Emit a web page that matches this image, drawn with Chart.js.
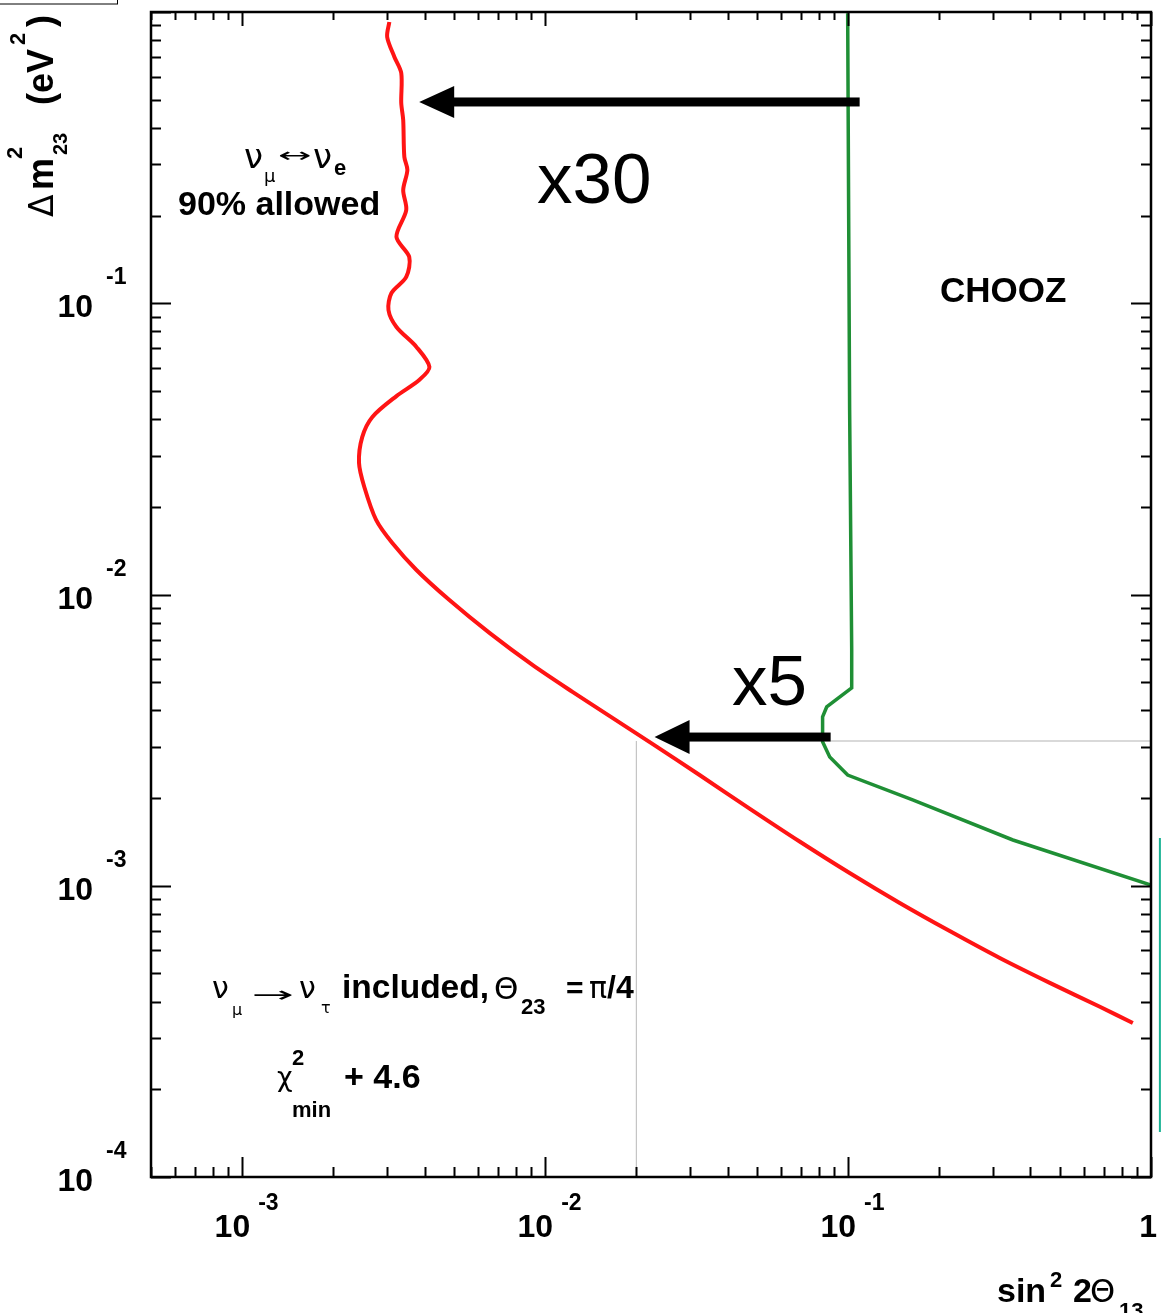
<!DOCTYPE html>
<html>
<head>
<meta charset="utf-8">
<script src="https://cdn.jsdelivr.net/npm/chart.js@4.4.1/dist/chart.umd.min.js"></script>
<style>
  html, body { margin: 0; padding: 0; background: #fff; }
  canvas { display: block; }
</style>
</head>
<body>
<canvas id="chart" width="1161" height="1313"></canvas>
<script>
// nu_mu <-> nu_e, 90% allowed contour (sin^2 2theta13, dm^2_23)
const redX = [3.06e-3, 3.01e-3, 3.18e-3, 3.35e-3, 3.35e-3, 3.40e-3, 3.43e-3, 3.51e-3, 3.40e-3, 3.48e-3,
  3.23e-3, 3.56e-3, 3.48e-3, 3.11e-3, 3.04e-3, 3.23e-3, 3.76e-3, 4.15e-3, 3.84e-3, 3.23e-3,
  2.69e-3, 2.49e-3, 2.43e-3, 2.53e-3, 2.77e-3, 3.13e-3,
  3.76e-3, 4.83e-3, 6.55e-3, 9.08e-3, 1.231e-2, 1.668e-2, 2.26e-2, 3.234e-2, 4.73e-2, 6.92e-2,
  0.1012, 0.1481, 0.2166, 0.3168, 0.4634, 0.678, 0.871];
const redY = [0.924, 0.821, 0.701, 0.617, 0.487, 0.426, 0.3177, 0.2868, 0.2447, 0.2090,
  0.1689, 0.1441, 0.1231, 0.1084, 0.0948, 0.0829, 0.0708, 0.0604, 0.0545, 0.0480,
  0.0407, 0.0347, 0.0283, 0.0234, 0.0180, 0.01502,
  0.01214, 9.57e-3, 7.38e-3, 5.73e-3, 4.63e-3, 3.77e-3, 3.07e-3, 2.40e-3, 1.841e-3, 1.419e-3,
  1.106e-3, 8.73e-4, 6.99e-4, 5.65e-4, 4.64e-4, 3.84e-4, 3.38e-4];

// CHOOZ limit
const choozX = [0.0997, 0.1012, 0.1028, 0.1028, 0.0850, 0.0824, 0.0824, 0.0870, 0.0997, 0.1634, 0.350, 1.0];
const choozY = [0.99, 0.0430, 6.45e-3, 4.78e-3, 4.11e-3, 3.80e-3, 3.12e-3, 2.77e-3, 2.40e-3, 1.970e-3, 1.436e-3, 1.006e-3];

// thin guide lines at sin^2 2theta13 = 0.02 and dm^2 = 3.1e-3
const guideVX = [0.02, 0.02];
const guideVY = [1e-4, 3.14e-3];
const guideHX = [0.0876, 1];
const guideHY = [3.14e-3, 3.14e-3];

// axis ranges and decade labels
const xRange = [5e-4, 1];
const yRange = [1e-4, 1];
const xDecades = [-3, -2, -1];
const yDecades = [-4, -3, -2, -1];

// arrows: [tail x, tip x, y] in data units
const arrowTop = [0.1092, 3.84e-3, 0.491];
const arrowLow = [0.0876, 0.02297, 3.24e-3];

const SANS = '"Liberation Sans", Arial, Helvetica, sans-serif';
const GREEK = '"DejaVu Sans", sans-serif';

function put(ctx, text, x, y, size, opts = {}) {
  ctx.font = `${opts.bold ? 'bold ' : ''}${size}px ${opts.greek ? GREEK : SANS}`;
  ctx.textAlign = opts.align || 'left';
  ctx.textBaseline = 'alphabetic';
  if (opts.sx) {
    ctx.save();
    ctx.translate(x, y);
    ctx.scale(opts.sx, 1);
    ctx.fillText(text, 0, 0);
    ctx.restore();
  } else if (opts.width) {
    ctx.fillText(text, x, y, opts.width);
  } else {
    ctx.fillText(text, x, y);
  }
}

function drawArrow(ctx, tailX, tipX, y, shaft, headLen, headHalf) {
  ctx.fillRect(tipX + headLen - 1, y - shaft / 2, tailX - tipX - headLen + 1, shaft);
  ctx.beginPath();
  ctx.moveTo(tipX, y);
  ctx.lineTo(tipX + headLen, y - headHalf);
  ctx.lineTo(tipX + headLen, y + headHalf);
  ctx.closePath();
  ctx.fill();
}

const frame = {
  id: 'frame',
  afterDatasetsDraw(chart) {
    const { ctx, chartArea: a } = chart;
    const xs = chart.scales.x;
    const ys = chart.scales.y;
    ctx.save();
    ctx.fillStyle = '#000';
    ctx.strokeStyle = '#000';

    // ticks on all four sides, pointing inward
    ctx.lineWidth = 2;
    ctx.beginPath();
    for (let d = -4; d <= 0; d++) {
      for (let m = 1; m <= 9; m++) {
        const v = m * Math.pow(10, d);
        const len = m === 1 ? 20 : 10;
        if (v >= xRange[0] && v <= xRange[1]) {
          const px = Math.round(xs.getPixelForValue(v)) + 0.5;
          ctx.moveTo(px, a.bottom); ctx.lineTo(px, a.bottom - len);
          ctx.moveTo(px, a.top); ctx.lineTo(px, a.top + (m === 1 ? 14 : 8));
        }
        if (v >= yRange[0] && v <= yRange[1]) {
          const py = Math.round(ys.getPixelForValue(v)) + 0.5;
          ctx.moveTo(a.left, py); ctx.lineTo(a.left + len, py);
          ctx.moveTo(a.right, py); ctx.lineTo(a.right - len, py);
        }
      }
    }
    ctx.stroke();

    ctx.lineWidth = 2.5;
    ctx.strokeRect(a.left, a.top, a.right - a.left, a.bottom - a.top);

    // tick labels
    xDecades.forEach((d) => {
      const px = xs.getPixelForValue(Math.pow(10, d));
      put(ctx, '10', px + 8, 1237, 32, { bold: true, align: 'right' });
      put(ctx, String(d), px + 16, 1210, 23, { bold: true });
    });
    put(ctx, '1', xs.getPixelForValue(1) + 6, 1237, 32, { bold: true, align: 'right' });
    yDecades.forEach((d) => {
      const py = ys.getPixelForValue(Math.pow(10, d));
      put(ctx, '10', 93, py + 14, 32, { bold: true, align: 'right' });
      put(ctx, String(d), 106, py - 19, 23, { bold: true });
    });

    // axis titles
    put(ctx, 'sin', 997, 1302, 34, { bold: true });
    put(ctx, '2', 1050, 1287, 22, { bold: true });
    put(ctx, '2', 1073, 1302, 34, { bold: true });
    put(ctx, '\u0398', 1090, 1302, 32, { greek: true });
    put(ctx, '13', 1119, 1318, 22, { bold: true });

    ctx.save();
    ctx.translate(53, 217);
    ctx.rotate(-Math.PI / 2);
    put(ctx, '\u0394', 0, 0, 33, { greek: true });
    put(ctx, 'm', 27, 0, 36, { bold: true });
    put(ctx, '2', 58, -31, 22, { bold: true });
    put(ctx, '23', 62, 14, 20, { bold: true });
    put(ctx, '(eV', 112, 0, 36, { bold: true, width: 60 });
    put(ctx, '2', 172, -28, 22, { bold: true });
    put(ctx, ')', 190, 0, 36, { bold: true });
    ctx.restore();

    // annotations
    put(ctx, '\u03bd', 244, 168, 34, { greek: true });
    put(ctx, '\u03bc', 264, 182, 18, { greek: true });
    put(ctx, '\u2194', 278, 162, 20, { greek: true, sx: 2 });
    put(ctx, '\u03bd', 313, 168, 34, { greek: true });
    put(ctx, 'e', 334, 175, 22, { bold: true });
    put(ctx, '90% allowed', 178, 215, 34, { bold: true, width: 206 });

    put(ctx, 'CHOOZ', 940, 302, 35, { bold: true, width: 128 });

    put(ctx, '\u03bd', 212, 998, 30, { greek: true });
    put(ctx, '\u03bc', 232, 1015, 16, { greek: true });
    put(ctx, '\u2192', 252, 1002, 22, { greek: true, sx: 2.3 });
    put(ctx, '\u03bd', 299, 998, 30, { greek: true });
    put(ctx, '\u03c4', 321, 1013, 16, { greek: true });
    put(ctx, 'included,', 342, 998, 34, { bold: true, width: 147 });
    put(ctx, '\u0398', 494, 999, 31, { greek: true });
    put(ctx, '23', 521, 1014, 22, { bold: true, width: 42 });
    put(ctx, '=', 566, 998, 30, { bold: true });
    put(ctx, '\u03c0', 589, 998, 30, { greek: true });
    put(ctx, '/4', 607, 998, 32, { bold: true, width: 44 });

    put(ctx, '\u03c7', 277, 1086, 27, { greek: true });
    put(ctx, '2', 292, 1065, 22, { bold: true });
    put(ctx, 'min', 292, 1117, 22, { bold: true, width: 47 });
    put(ctx, '+ 4.6', 344, 1088, 34, { bold: true, width: 77 });

    put(ctx, 'x30', 537, 203, 71);
    put(ctx, 'x5', 732, 705, 71);

    // arrows
    drawArrow(ctx, xs.getPixelForValue(arrowTop[0]), xs.getPixelForValue(arrowTop[1]),
      ys.getPixelForValue(arrowTop[2]), 9, 35, 16);
    drawArrow(ctx, xs.getPixelForValue(arrowLow[0]), xs.getPixelForValue(arrowLow[1]),
      ys.getPixelForValue(arrowLow[2]), 9, 35, 17);

    // teal marker outside the frame
    ctx.strokeStyle = '#19b394';
    ctx.lineWidth = 2;
    ctx.beginPath();
    ctx.moveTo(xs.getPixelForValue(1.07), ys.getPixelForValue(1.459e-3));
    ctx.lineTo(xs.getPixelForValue(1.07), ys.getPixelForValue(1.427e-4));
    ctx.stroke();

    // cut-off box at the top left
    ctx.strokeStyle = '#000';
    ctx.lineWidth = 1;
    ctx.strokeRect(-1, -1, 118.5, 5);
    ctx.restore();
  },
};

const pts = (xs, ys) => xs.map((x, i) => ({ x, y: ys[i] }));

new Chart(document.getElementById('chart'), {
  type: 'line',
  data: {
    datasets: [
      { data: pts(guideVX, guideVY), borderColor: '#b8b8b8', borderWidth: 1, pointRadius: 0 },
      { data: pts(guideHX, guideHY), borderColor: '#cccccc', borderWidth: 1.5, pointRadius: 0 },
      { data: pts(choozX, choozY), borderColor: '#1f8f35', borderWidth: 3.5, pointRadius: 0, tension: 0 },
      { data: pts(redX, redY), borderColor: '#ff1414', borderWidth: 4, pointRadius: 0, tension: 0.3 },
    ],
  },
  options: {
    responsive: false,
    animation: false,
    layout: { padding: { left: 151, right: 10, top: 12, bottom: 136 } },
    plugins: { legend: { display: false }, tooltip: { enabled: false } },
    scales: {
      x: { type: 'logarithmic', min: xRange[0], max: xRange[1], display: false },
      y: { type: 'logarithmic', min: yRange[0], max: yRange[1], display: false },
    },
  },
  plugins: [frame],
});
</script>
</body>
</html>
